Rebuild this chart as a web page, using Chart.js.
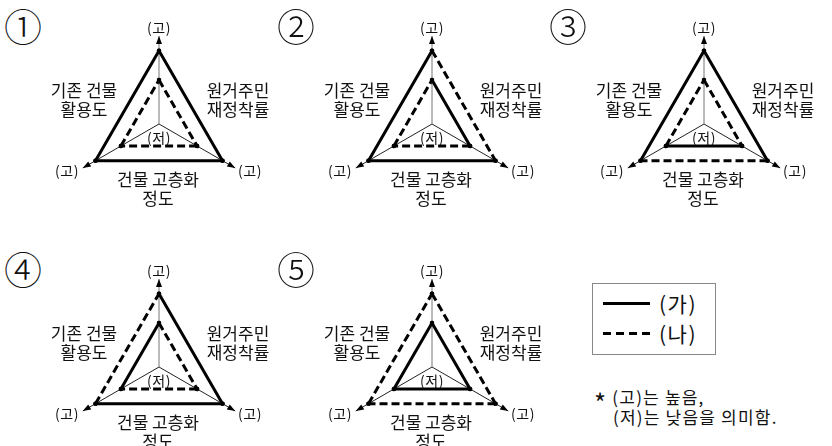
<!DOCTYPE html>
<html>
<head>
<meta charset="utf-8">
<script src="https://cdn.jsdelivr.net/npm/chart.js@4"></script>
<style>
  html, body { margin: 0; padding: 0; background: #fff; }
  #fig { position: relative; width: 832px; height: 446px; overflow: hidden;
         font-family: "Noto Sans CJK KR", "Noto Sans", sans-serif; color: #111; }
  .panel { position: absolute; width: 0; height: 0; }
  .panel canvas { position: absolute; left: -100px; top: -100px; }
  .t { position: absolute; transform: translate(-50%, -50%); white-space: nowrap; text-align: center; }
  .num { font-size: 38px; line-height: 38px; font-weight: 300; }
  .hi, .lo { font-size: 14px; letter-spacing: 0.5px; }
  .cat { font-size: 17px; line-height: 19px; }
  #legend { position: absolute; left: 592px; top: 283px; width: 122px; height: 70px; border: 1px solid #888; }
  .lg-line { position: absolute; left: 10px; width: 47px; height: 3px; }
  .lg-text { position: absolute; left: 66px; font-size: 21px; line-height: 22px; letter-spacing: 1.5px; }
  .note { position: absolute; font-size: 17px; line-height: 20px; height: 20px; white-space: nowrap; letter-spacing: 1.2px; }
  .star { font-size: 26px; line-height: 0; position: relative; top: 9px; }
</style>
</head>
<body>
<div id="fig"></div>
<script>
// 범주(세 변), 축 끝 표시, 보기 번호
const categories = ["기존 건물 활용도", "원거주민 재정착률", "건물 고층화 정도"];
const categoryLines = [["기존 건물", "활용도"], ["원거주민", "재정착률"], ["건물 고층화", "정도"]];
const axisLabels = ["(고)", "(고)", "(고)"];
const centerLabel = "(저)";
const panelNames = ["①", "②", "③", "④", "⑤"];
const seriesNames = ["(가)", "(나)"];

// 각 보기의 값: [기존 건물 활용도, 원거주민 재정착률, 건물 고층화 정도]
const valuesGa = [[5, 5, 5], [5, 3, 5], [5, 5, 3], [3, 5, 5], [3, 3, 3]];
const valuesNa = [[3, 3, 3], [3, 5, 3], [3, 3, 5], [5, 3, 3], [5, 5, 5]];
const axisMax = 6;

// 각 변이 잇는 두 축 (0: 위, 1: 오른쪽 아래, 2: 왼쪽 아래)
const edgeAxes = [[0, 2], [0, 1], [1, 2]];

// 보기 중심 위치 (레이아웃)
const panelCenters = [[159, 124], [432, 124], [704, 124], [159, 367], [432, 367]];

const fig = document.getElementById("fig");

function edgeData(v, axes) {
    const d = [null, null, null];
    d[axes[0]] = v;
    d[axes[1]] = v;
    return d;
}

function makeDatasets(vals, dashed) {
    return vals.map((v, k) => ({
        label: categories[k],
        data: edgeData(v, edgeAxes[k]),
        borderColor: "#000",
        borderWidth: 3,
        borderDash: dashed ? [8, 4] : [],
        borderCapStyle: dashed ? "butt" : "round",
        pointRadius: 2.2,
        pointBorderWidth: 0,
        pointBackgroundColor: "#000",
        fill: false,
        spanGaps: false,
        tension: 0
    }));
}

const arrowPlugin = {
    id: "arrows",
    afterDraw(chart) {
        const s = chart.scales.r;
        const ctx = chart.ctx;
        ctx.save();
        ctx.fillStyle = "#000";
        for (let i = 0; i < axisLabels.length; i++) {
            const tip = s.getPointPositionForValue(i, s.max);
            const dx = tip.x - s.xCenter, dy = tip.y - s.yCenter;
            const len = Math.hypot(dx, dy);
            const ux = dx / len, uy = dy / len;
            const bx = tip.x - ux * 8, by = tip.y - uy * 8;
            ctx.beginPath();
            ctx.moveTo(tip.x, tip.y);
            ctx.lineTo(bx - uy * 3, by + ux * 3);
            ctx.lineTo(bx + uy * 3, by - ux * 3);
            ctx.closePath();
            ctx.fill();
        }
        ctx.restore();
    }
};

function addText(parent, cls, text, x, y) {
    const el = document.createElement("div");
    el.className = "t " + cls;
    el.style.left = x + "px";
    el.style.top = y + "px";
    el.innerHTML = text;
    parent.appendChild(el);
    return el;
}

panelNames.forEach((name, p) => {
    const panel = document.createElement("div");
    panel.className = "panel";
    panel.style.left = panelCenters[p][0] + "px";
    panel.style.top = panelCenters[p][1] + "px";
    fig.appendChild(panel);

    const canvas = document.createElement("canvas");
    canvas.width = 200;
    canvas.height = 200;
    panel.appendChild(canvas);

    addText(panel, "num", name, -136, -99);
    addText(panel, "hi", axisLabels[0], 0, -97);
    addText(panel, "hi", axisLabels[1], 91, 46);
    addText(panel, "hi", axisLabels[2], -92, 46);
    addText(panel, "lo", centerLabel, 0, 13);
    addText(panel, "cat", categoryLines[0].join("<br>"), -75, -25);
    addText(panel, "cat", categoryLines[1].join("<br>"), 79, -25);
    addText(panel, "cat", categoryLines[2].join("<br>"), -1, 64);

    new Chart(canvas.getContext("2d"), {
        type: "radar",
        data: {
            labels: axisLabels,
            datasets: [...makeDatasets(valuesNa[p], true), ...makeDatasets(valuesGa[p], false)]
        },
        options: {
            responsive: false,
            animation: false,
            events: [],
            layout: { padding: 12 },
            plugins: { legend: { display: false }, tooltip: { enabled: false } },
            scales: {
                r: {
                    min: 0,
                    max: axisMax,
                    ticks: { display: false },
                    grid: { display: false },
                    pointLabels: { display: false },
                    angleLines: {
                        color: ctx => ctx.index === 0 ? "#777" : "#222",
                        lineWidth: 1
                    }
                }
            }
        },
        plugins: [arrowPlugin]
    });
});

// 범례
const legend = document.createElement("div");
legend.id = "legend";
legend.innerHTML =
    '<div class="lg-line" style="top:18px;background:#000"></div>' +
    '<div class="lg-text" style="top:8px">' + seriesNames[0] + '</div>' +
    '<div class="lg-line" style="top:48px;background:repeating-linear-gradient(to right,#000 0 8px,transparent 8px 13px)"></div>' +
    '<div class="lg-text" style="top:38px">' + seriesNames[1] + '</div>';
fig.appendChild(legend);

const note1 = document.createElement("div");
note1.className = "note";
note1.style.left = "594px";
note1.style.top = "387px";
note1.innerHTML = '<span class="star">*</span> (고)는 높음,';
fig.appendChild(note1);

const note2 = document.createElement("div");
note2.className = "note";
note2.style.left = "613px";
note2.style.top = "407px";
note2.textContent = "(저)는 낮음을 의미함.";
fig.appendChild(note2);
</script>
</body>
</html>
